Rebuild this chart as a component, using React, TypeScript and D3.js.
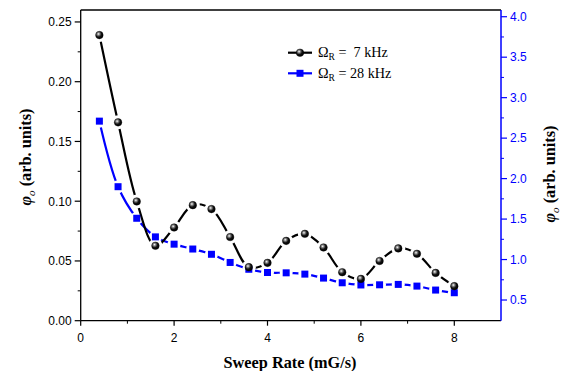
import React from "react";
import * as d3 from "d3";

const sweepRates = [0.4, 0.8, 1.2, 1.6, 2.0, 2.4, 2.8, 3.2, 3.6, 4.0, 4.4, 4.8, 5.2, 5.6, 6.0, 6.4, 6.8, 7.2, 7.6, 8.0];
const phi7kHz = [0.239, 0.166, 0.0998, 0.0627, 0.078, 0.0967, 0.0934, 0.070, 0.0448, 0.0484, 0.0668, 0.0727, 0.0613, 0.0406, 0.035, 0.050, 0.0605, 0.056, 0.040, 0.0289];
const phi28kHz = [2.71, 1.90, 1.51, 1.28, 1.19, 1.13, 1.065, 0.964, 0.88, 0.84, 0.836, 0.82, 0.771, 0.713, 0.686, 0.688, 0.693, 0.672, 0.623, 0.59];
const xTicks = [0, 2, 4, 6, 8];
const xMinor = [1, 3, 5, 7];
const yLeftTicks = [0, 0.05, 0.1, 0.15, 0.2, 0.25];
const yLeftMinor = [0.025, 0.075, 0.125, 0.175, 0.225];
const yRightTicks = [0.5, 1.0, 1.5, 2.0, 2.5, 3.0, 3.5, 4.0];
const yRightMinor = [0.75, 1.25, 1.75, 2.25, 2.75, 3.25, 3.75];

const L = 80.7, R = 501, T = 10, B = 320.7;
const BLUE = "#0000ff";
const SANS = "'Liberation Sans', Arial, sans-serif";
const SERIF = "'Liberation Serif', Tinos, 'Times New Roman', 'DejaVu Serif', serif";

export default function App() {
  const x = d3.scaleLinear().domain([0, 9]).range([L, R]);
  const yL = d3.scaleLinear().domain([0, 0.26]).range([B, T]);
  const yR = d3.scaleLinear().domain([0.2445, 4.083]).range([B, T]);

  const blackPts: [number, number][] = sweepRates.map((s, i) => [x(s), yL(phi7kHz[i])]);
  const bluePts: [number, number][] = sweepRates.map((s, i) => [x(s), yR(phi28kHz[i])]);
  const line = d3.line().curve(d3.curveCatmullRom.alpha(0.5));

  return (
    <svg width={566} height={371} style={{ position: "absolute", left: 0, top: 0, background: "#fff" }}>
      <defs>
        <radialGradient id="ball" cx="38%" cy="35%" r="65%">
          <stop offset="0%" stopColor="#ffffff" />
          <stop offset="25%" stopColor="#8a8a8a" />
          <stop offset="60%" stopColor="#111" />
          <stop offset="100%" stopColor="#000" />
        </radialGradient>
        <mask id="maskBlack" maskUnits="userSpaceOnUse" x={0} y={0} width={566} height={371}>
          <rect x={0} y={0} width={566} height={371} fill="#fff" />
          {blackPts.map((p, i) => (
            <circle key={i} cx={p[0]} cy={p[1]} r={7} fill="#000" />
          ))}
        </mask>
        <mask id="maskBlue" maskUnits="userSpaceOnUse" x={0} y={0} width={566} height={371}>
          <rect x={0} y={0} width={566} height={371} fill="#fff" />
          {bluePts.map((p, i) => (
            <circle key={i} cx={p[0]} cy={p[1]} r={6.5} fill="#000" />
          ))}
        </mask>
      </defs>

      {/* frame */}
      <line x1={L} x2={R} y1={T} y2={T} stroke="#000" strokeWidth={1.3} />
      <line x1={L} x2={R} y1={B} y2={B} stroke="#000" strokeWidth={1.3} />
      <line x1={L} x2={L} y1={T} y2={B} stroke="#000" strokeWidth={1.3} />
      <line x1={R} x2={R} y1={T} y2={B} stroke={BLUE} strokeWidth={1.5} />

      {/* x axis */}
      {xTicks.map((t) => (
        <g key={"x" + t}>
          <line x1={x(t)} x2={x(t)} y1={B} y2={B + 5} stroke="#000" strokeWidth={1.2} />
          <text x={x(t)} y={341.5} textAnchor="middle" fontFamily={SANS} fontSize={12} fill="#000">
            {t}
          </text>
        </g>
      ))}
      {xMinor.map((t) => (
        <line key={"xm" + t} x1={x(t)} x2={x(t)} y1={B} y2={B + 3} stroke="#000" strokeWidth={1} />
      ))}

      {/* left axis */}
      {yLeftTicks.map((t) => (
        <g key={"yl" + t}>
          <line x1={L - 6} x2={L} y1={yL(t)} y2={yL(t)} stroke="#000" strokeWidth={1.2} />
          <text x={L - 9} y={yL(t) + 4.3} textAnchor="end" fontFamily={SANS} fontSize={12} fill="#000">
            {t.toFixed(2)}
          </text>
        </g>
      ))}
      {yLeftMinor.map((t) => (
        <line key={"ylm" + t} x1={L - 3} x2={L} y1={yL(t)} y2={yL(t)} stroke="#000" strokeWidth={1} />
      ))}

      {/* right axis */}
      {yRightTicks.map((t) => (
        <g key={"yr" + t}>
          <line x1={R} x2={R + 6} y1={yR(t)} y2={yR(t)} stroke={BLUE} strokeWidth={1.2} />
          <text x={R + 9} y={yR(t) + 4.3} textAnchor="start" fontFamily={SANS} fontSize={12} fill={BLUE}>
            {t.toFixed(1)}
          </text>
        </g>
      ))}
      {yRightMinor.map((t) => (
        <line key={"yrm" + t} x1={R} x2={R + 3} y1={yR(t)} y2={yR(t)} stroke={BLUE} strokeWidth={1} />
      ))}

      {/* axis titles */}
      <text x={290} y={367.5} textAnchor="middle" fontFamily={SERIF} fontSize={16.3} fontWeight="bold" fill="#000">
        Sweep Rate (mG/s)
      </text>
      <text transform="translate(31,157) rotate(-90)" textAnchor="middle" fontFamily={SERIF} fontSize={16.3} fontWeight="bold" fill="#000">
        <tspan fontStyle="italic">φ</tspan>
        <tspan fontStyle="italic" fontWeight="normal" fontSize={11} dy={4}>o</tspan>
        <tspan dy={-4}> (arb. units)</tspan>
      </text>
      <text transform="translate(555,174) rotate(-90)" textAnchor="middle" fontFamily={SERIF} fontSize={16.3} fontWeight="bold" fill="#000">
        <tspan fontStyle="italic">φ</tspan>
        <tspan fontStyle="italic" fontWeight="normal" fontSize={11} dy={4}>o</tspan>
        <tspan dy={-4}> (arb. units)</tspan>
      </text>

      {/* series lines */}
      <path d={line(bluePts) || ""} fill="none" stroke={BLUE} strokeWidth={2.2} mask="url(#maskBlue)" />
      <path d={line(blackPts) || ""} fill="none" stroke="#000" strokeWidth={2.2} mask="url(#maskBlack)" />

      {/* markers */}
      {bluePts.map((p, i) => (
        <rect key={"b" + i} x={p[0] - 3.5} y={p[1] - 3.5} width={7} height={7} fill={BLUE} />
      ))}
      {blackPts.map((p, i) => (
        <circle key={"k" + i} cx={p[0]} cy={p[1]} r={3.8} fill="url(#ball)" stroke="#000" strokeWidth={0.4} />
      ))}

      {/* legend */}
      <line x1={288} x2={312} y1={52.7} y2={52.7} stroke="#000" strokeWidth={2.2} />
      <circle cx={300} cy={52.7} r={3.8} fill="url(#ball)" stroke="#000" strokeWidth={0.4} />
      <text x={318} y={57.3} fontFamily={SERIF} fontSize={14.2} fill="#000">
        Ω<tspan fontSize={9.5} dy={3}>R</tspan>
        <tspan dy={-3}>{"\u00a0=\u00a0\u00a07 kHz"}</tspan>
      </text>
      <line x1={288} x2={312} y1={73.3} y2={73.3} stroke={BLUE} strokeWidth={2.2} />
      <rect x={296.5} y={69.8} width={7} height={7} fill={BLUE} />
      <text x={318} y={77.9} fontFamily={SERIF} fontSize={14.2} fill="#000">
        Ω<tspan fontSize={9.5} dy={3}>R</tspan>
        <tspan dy={-3}>{"\u00a0= 28 kHz"}</tspan>
      </text>
    </svg>
  );
}
